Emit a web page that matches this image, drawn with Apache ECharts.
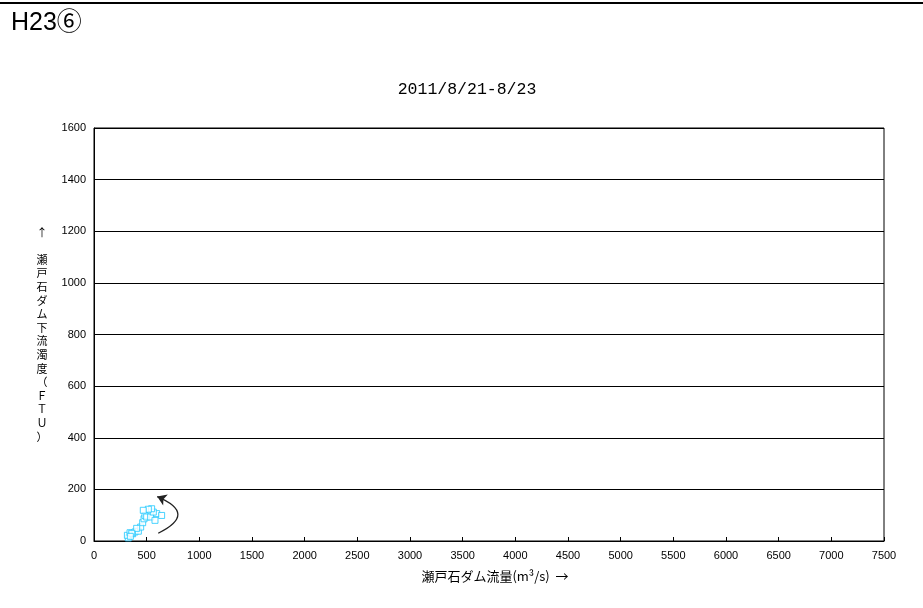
<!DOCTYPE html>
<html>
<head>
<meta charset="utf-8">
<script src="https://cdn.jsdelivr.net/npm/echarts@6/dist/echarts.min.js"></script>
<style>
html,body{margin:0;padding:0;background:#fff;}
#chart{width:923px;height:608px;}
</style>
</head>
<body>
<div id="chart"></div>
<script>
// Data
var flowValues = [326, 317, 342, 367, 389, 421, 443, 462, 475, 484, 500, 538, 579, 595, 642, 563, 547, 516, 468, 405, 358, 345];
var turbidityValues = [12, 22, 32, 28, 35, 38, 54, 71, 86, 99, 93, 93, 80, 106, 99, 112, 125, 123, 119, 49, 30, 18];
var arrowStart = [610, 30];
var arrowEnd = [600, 172];
var pageLabel = 'H23⑥';
var chartTitle = '2011/8/21-8/23';
var xName = '瀬戸石ダム流量(m³/s)  →';
var yNameChars = ['↑', '', '瀬', '戸', '石', 'ダ', 'ム', '下', '流', '濁', '度', '（', 'Ｆ', 'Ｔ', 'Ｕ', '）'];

var points = flowValues.map(function (v, i) { return [v, turbidityValues[i]]; });
var numFont = '"Liberation Sans", sans-serif';
var jpFont = '"Noto Sans CJK JP", sans-serif';

var chart = echarts.init(document.getElementById('chart'));
chart.setOption({
  animation: false,
  backgroundColor: '#fff',
  textStyle: { fontFamily: numFont, color: '#000' },
  graphic: [
    { type: 'rect', shape: { x: 0, y: 2, width: 923, height: 2 }, style: { fill: '#000' } },
    { type: 'text', left: 11, top: 11, style: { text: pageLabel, fontSize: 25, fontFamily: '"Liberation Sans", "Noto Sans CJK JP", sans-serif', fill: '#000' } }
  ],
  title: {
    text: chartTitle,
    left: 462,
    top: 76,
    textAlign: 'center',
    textStyle: { fontSize: 16.5, fontWeight: 'normal', color: '#000', fontFamily: '"Liberation Mono", monospace' }
  },
  grid: { left: 94, right: 39, top: 128, bottom: 67, show: true, borderColor: '#000', borderWidth: 1, backgroundColor: 'transparent' },
  xAxis: {
    type: 'value',
    min: 0, max: 7500, interval: 500,
    name: xName,
    nameLocation: 'middle',
    nameGap: 29,
    nameTextStyle: { fontSize: 13, color: '#000', fontFamily: jpFont, padding: [0, 0, 0, 12] },
    axisLine: { show: true, lineStyle: { color: '#000', width: 1 } },
    axisTick: { show: true, inside: true, length: 4, lineStyle: { color: '#000' } },
    axisLabel: { fontSize: 11, color: '#000', margin: 9, formatter: function (v) { return String(v); } },
    splitLine: { show: false }
  },
  yAxis: {
    type: 'value',
    min: 0, max: 1600, interval: 200,
    name: yNameChars.join('\n'),
    nameLocation: 'middle',
    nameRotate: 0,
    nameGap: 52,
    nameTextStyle: { fontSize: 11, lineHeight: 13.6, align: 'center', verticalAlign: 'middle', color: '#000', fontFamily: jpFont },
    axisLine: { show: true, lineStyle: { color: '#000', width: 1 } },
    axisTick: { show: false },
    axisLabel: { fontSize: 11, color: '#000', margin: 8, formatter: function (v) { return String(v); } },
    splitLine: { show: true, lineStyle: { color: '#000', width: 1 } }
  },
  series: [{
    type: 'scatter',
    data: points,
    symbol: 'rect',
    symbolSize: 6,
    itemStyle: { color: '#fff', borderColor: '#1ec8ff', borderWidth: 1 },
    z: 3
  }, {
    type: 'lines',
    coordinateSystem: 'cartesian2d',
    silent: true,
    symbol: ['none', 'arrow'],
    symbolSize: [7, 9],
    lineStyle: { color: '#222', type: 'solid', width: 1.3, curveness: -1.1, opacity: 1 },
    data: [{ coords: [arrowStart, arrowEnd] }]
  }]
});
</script>
</body>
</html>
